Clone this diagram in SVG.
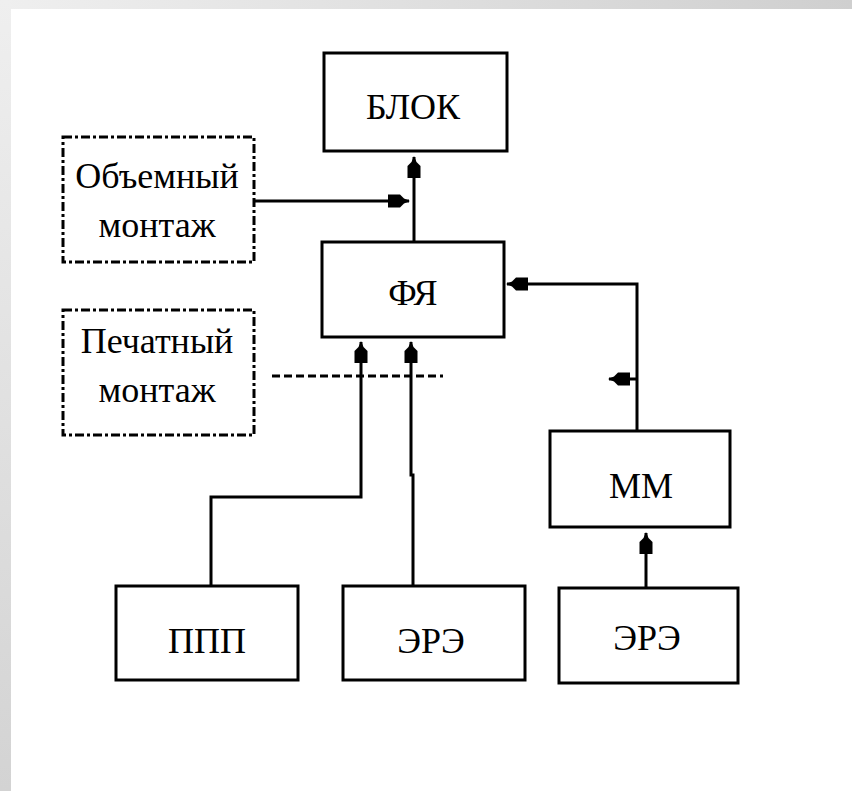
<svg xmlns="http://www.w3.org/2000/svg" width="852" height="791" viewBox="0 0 852 791">
<defs>
<linearGradient id="gTop" x1="0" y1="0" x2="1" y2="0"><stop offset="0" stop-color="#efefef"/><stop offset="1" stop-color="#cfcfcf"/></linearGradient>
<linearGradient id="gLeft" x1="0" y1="0" x2="0" y2="1"><stop offset="0" stop-color="#efefef"/><stop offset="1" stop-color="#d3d3d3"/></linearGradient>
<marker id="ah" markerUnits="userSpaceOnUse" viewBox="-24 -9 26 18" refX="0" refY="0" markerWidth="26" markerHeight="18" orient="auto" overflow="visible">
<path d="M1,0 L-5,-2.5 L-9,-6.5 L-21,-6.5 L-21,6.5 L-9,6.5 L-5,2.5 Z" fill="#000"/>
</marker>
<style>
.box{fill:#fff;stroke:#000;stroke-width:3}
.dbox{fill:none;stroke:#000;stroke-width:3;stroke-dasharray:9 3 3 3}
.t{font-family:"Liberation Serif","Times New Roman",serif;font-size:36px;fill:#000;text-anchor:middle}
.ln{fill:none;stroke:#000;stroke-width:3}
.ar{fill:none;stroke:#000;stroke-width:3;marker-end:url(#ah)}
</style>
</defs>
<rect width="852" height="791" fill="#fff"/>
<rect x="0" y="0" width="852" height="9" fill="url(#gTop)"/>
<rect x="0" y="0" width="11" height="791" fill="url(#gLeft)"/>

<g id="connectors">
<path class="ar" d="M414,242 L414,157"/>
<path class="ar" d="M254,201 L409,201"/>
<path class="ar" d="M637,431 L637,284 L507,284"/>
<path class="ar" d="M637,379 L609,379"/>
<path class="ar" d="M211,586 L211,497 L361,497 L361,342"/>
<path class="ar" d="M413,586 L413,475 L411,475 L411,342"/>
<path class="ar" d="M646,588 L646,533"/>
<path class="ln" d="M272,376 L443,376" stroke-width="2.5" stroke-dasharray="8 4"/>
</g>

<g id="blok"><rect class="box" x="324" y="53" width="183" height="98"/><text class="t" x="413" y="119">БЛОК</text></g>
<g id="fya"><rect class="box" x="322" y="242" width="182" height="95"/><text class="t" x="413" y="305">ФЯ</text></g>
<g id="obyemny"><rect class="dbox" x="63" y="137" width="191" height="125"/><text class="t" x="157" y="188">Объемный</text><text class="t" x="157" y="237">монтаж</text></g>
<g id="pechatny"><rect class="dbox" x="63" y="310" width="191" height="125"/><text class="t" x="157" y="353">Печатный</text><text class="t" x="157" y="402">монтаж</text></g>
<g id="mm"><rect class="box" x="550" y="431" width="180" height="96"/><text class="t" x="641" y="498">ММ</text></g>
<g id="ppp"><rect class="box" x="116" y="586" width="182" height="94"/><text class="t" x="207" y="653">ППП</text></g>
<g id="ere1"><rect class="box" x="343" y="586" width="182" height="94"/><text class="t" x="431" y="653">ЭРЭ</text></g>
<g id="ere2"><rect class="box" x="559" y="588" width="179" height="95"/><text class="t" x="647" y="650">ЭРЭ</text></g>
</svg>
